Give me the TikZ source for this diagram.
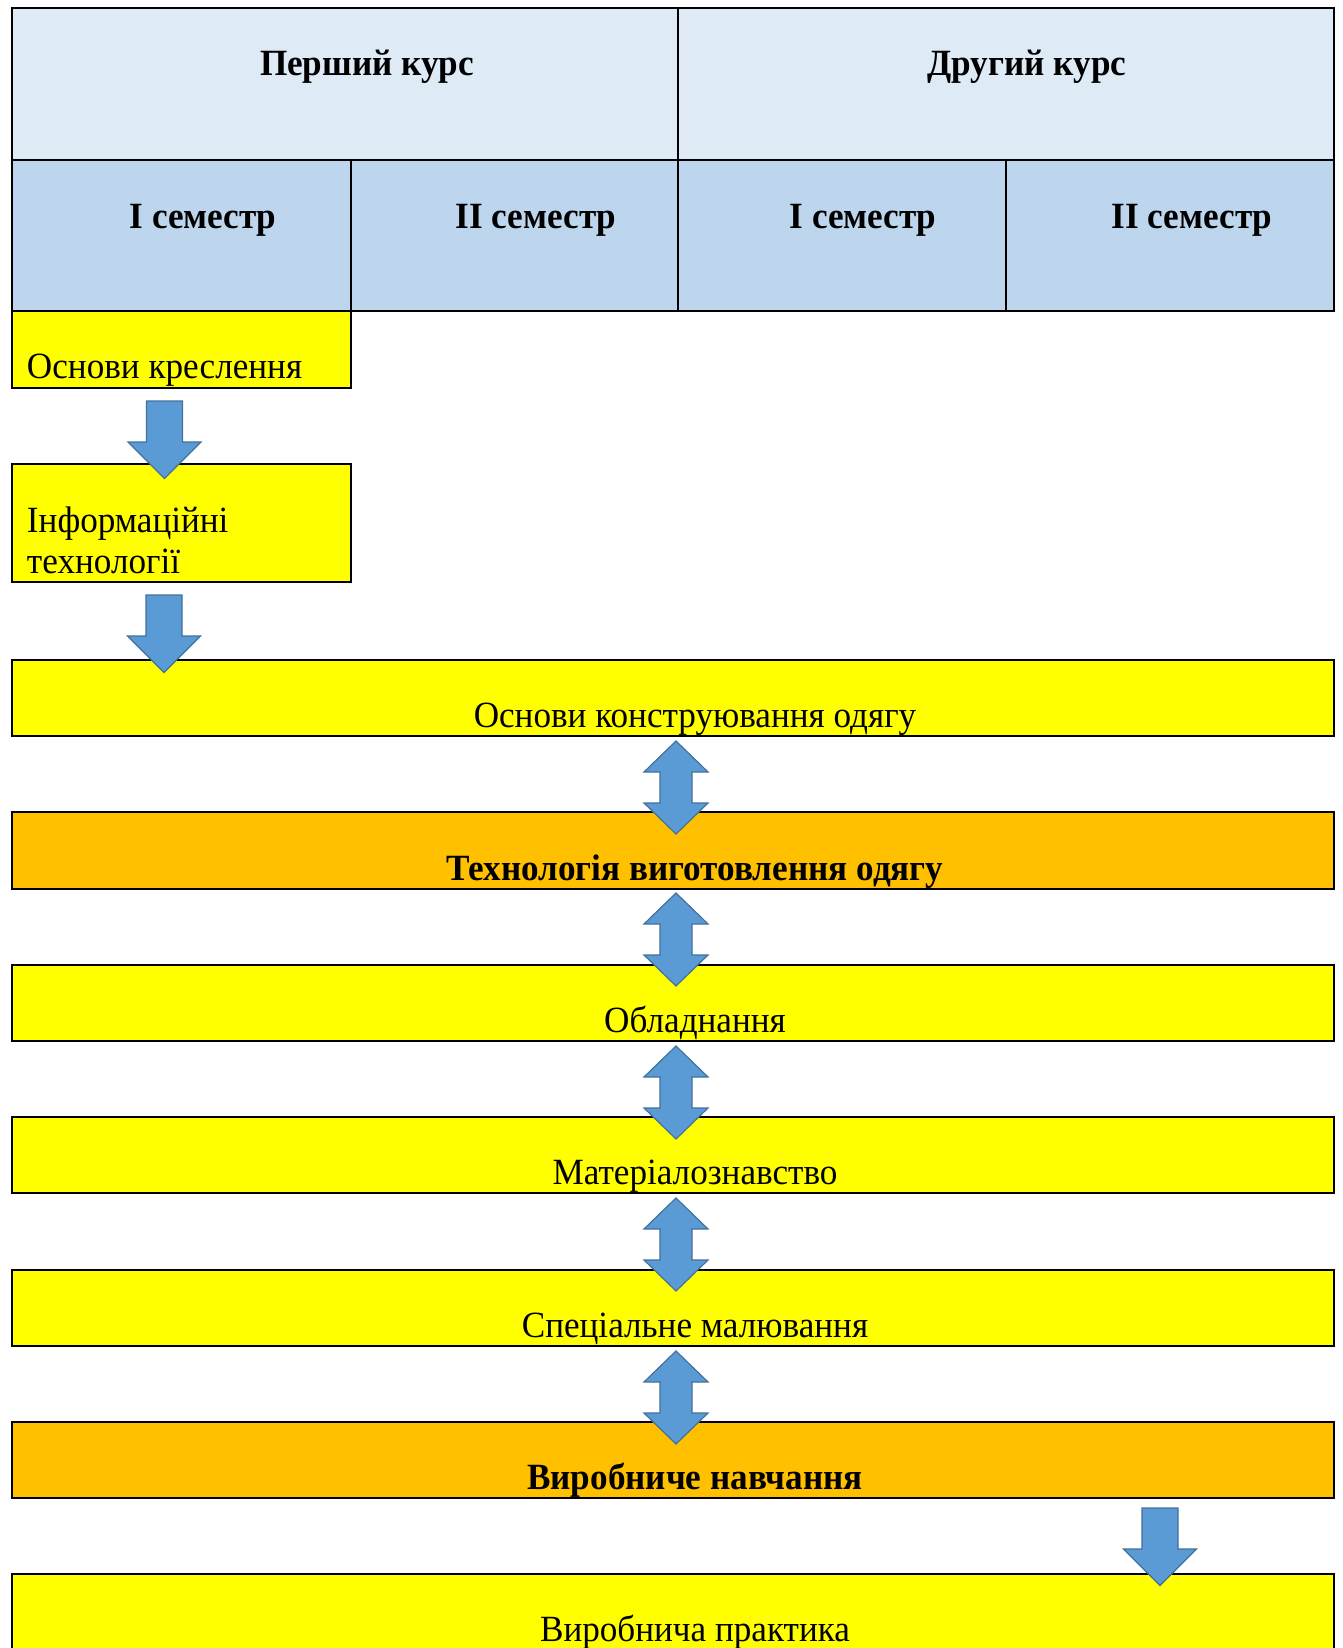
\documentclass[tikz,border=0pt]{standalone}
\usepackage{fontspec}
\setmainfont[FakeStretch=0.95]{Liberation Serif}
\definecolor{hdrA}{HTML}{DEEAF6}
\definecolor{hdrB}{HTML}{BDD6EE}
\definecolor{ylw}{HTML}{FFFF00}
\definecolor{orng}{HTML}{FFC000}
\definecolor{arrfill}{HTML}{5B9BD5}
\definecolor{arredge}{HTML}{41719C}
\newcommand{\dblarr}[2]{% center x, top y
  \filldraw[arrshape] (#1,#2) -- ++(32,31) -- ++(-16,0) -- ++(0,31) -- ++(16,0) -- ++(-32,31) -- ++(-32,-31) -- ++(16,0) -- ++(0,-31) -- ++(-16,0) -- cycle;}
\newcommand{\downarr}[2]{% center x, top y
  \filldraw[arrshape] (#1-18,#2) -- ++(36,0) -- ++(0,41) -- ++(18.5,0) -- ++(-36.5,36.5) -- ++(-36.5,-36.5) -- ++(18.5,0) -- cycle;}
\begin{document}
\begin{tikzpicture}[x=1pt,y=-1pt,
  cell/.style={draw=black,line width=1.8pt,inner sep=0pt,outer sep=0pt},
  txt/.style={inner sep=0pt,outer sep=0pt,anchor=base,font=\fontsize{37}{41}\selectfont},
  btxt/.style={txt,font=\fontsize{37}{41}\selectfont\bfseries},
  arrshape/.style={fill=arrfill,draw=arredge,line width=1.2pt,line join=miter}]
\clip (0,0) rectangle (1342,1648);
\fill[white] (0,0) rectangle (1342,1648);
% header
\filldraw[cell,fill=hdrA] (12,8) rectangle (678,160);
\filldraw[cell,fill=hdrA] (678,8) rectangle (1334,160);
\filldraw[cell,fill=hdrB] (12,160) rectangle (351,311);
\filldraw[cell,fill=hdrB] (351,160) rectangle (678,311);
\filldraw[cell,fill=hdrB] (678,160) rectangle (1006,311);
\filldraw[cell,fill=hdrB] (1006,160) rectangle (1334,311);
\node[btxt] (h1) at (367,76) {Перший курс};
\node[btxt] (h2) at (1027,76) {Другий курс};
\node[btxt] (s1) at (203,228) {I семестр};
\node[btxt] (s2) at (536,228) {II семестр};
\node[btxt] (s3) at (863,228) {I семестр};
\node[btxt] (s4) at (1192,228) {II семестр};
% boxes
\filldraw[cell,fill=ylw] (12,311) rectangle (351,388);
\node[txt,anchor=base west] (b1) at (27,378) {Основи креслення};
\filldraw[cell,fill=ylw] (12,464) rectangle (351,582);
\node[txt,anchor=base west] (b2a) at (27,532) {Інформаційні};
\node[txt,anchor=base west] (b2b) at (27,573) {технології};
\filldraw[cell,fill=ylw] (12,660) rectangle (1334,736);
\node[txt] (b3) at (695,727) {Основи конструювання одягу};
\filldraw[cell,fill=orng] (12,812) rectangle (1334,889);
\node[btxt] (b4) at (695,880) {Технологія виготовлення одягу};
\filldraw[cell,fill=ylw] (12,965) rectangle (1334,1041);
\node[txt] (b5) at (695,1032) {Обладнання};
\filldraw[cell,fill=ylw] (12,1117) rectangle (1334,1193);
\node[txt] (b6) at (695,1184) {Матеріалознавство};
\filldraw[cell,fill=ylw] (12,1270) rectangle (1334,1346);
\node[txt] (b7) at (695,1337) {Спеціальне малювання};
\filldraw[cell,fill=orng] (12,1422) rectangle (1334,1498);
\node[btxt] (b8) at (695,1489) {Виробниче навчання};
\filldraw[cell,fill=ylw] (12,1574) rectangle (1334,1651);
\node[txt] (b9) at (695,1641) {Виробнича практика};
% arrows
\downarr{164.5}{401}
\downarr{164}{595}
\dblarr{676}{741}
\dblarr{676}{893}
\dblarr{676}{1046}
\dblarr{676}{1198}
\dblarr{676}{1351}
\downarr{1160}{1508}
\end{tikzpicture}
\end{document}
